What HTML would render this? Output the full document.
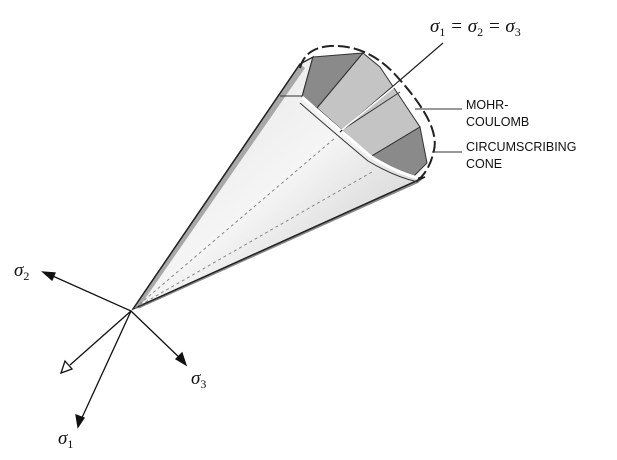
<!DOCTYPE html>
<html><head><style>
html,body{margin:0;padding:0;background:#fff;}
svg{display:block;}
.s{font-family:"Liberation Serif",serif;font-style:italic;font-size:19px;fill:#111;}
.sub{font-size:12px;font-style:normal;}
.l{font-family:"Liberation Sans",sans-serif;font-size:12.5px;fill:#111;}
</style></head><body>
<svg width="617" height="460" viewBox="0 0 617 460" xmlns="http://www.w3.org/2000/svg">
<defs>
<linearGradient id="cg" x1="0" y1="0" x2="1" y2="1">
<stop offset="0" stop-color="#e0e0e0"/><stop offset="0.5" stop-color="#f5f5f5"/><stop offset="1" stop-color="#c0c0c0"/>
</linearGradient>
</defs>
<path d="M133,309 L300,64 L313,57 L302,97 Q340,130 370,156 Q395,172 418,178 L425,177 Z" fill="url(#cg)" stroke="#222" stroke-width="1.3"/>
<path d="M133,309 L300,64 L305,68 L140,306 Z" fill="#a8a8a8"/>
<path d="M133,309 L425,177 L418,183 L140,308 Z" fill="#888"/>
<line x1="133" y1="309" x2="300" y2="64" stroke="#222" stroke-width="1.5"/>
<line x1="133" y1="309" x2="425" y2="177" stroke="#222" stroke-width="1.5"/>
<polygon points="313,57 363,53 317,108 302,97" fill="#8a8a8a" stroke="#333" stroke-width="1"/>
<polygon points="363,53 380,67 420,127 370,157 342,130 317,108" fill="#c4c4c4" stroke="#333" stroke-width="1"/>
<line x1="342" y1="130" x2="400" y2="92" stroke="#333" stroke-width="1"/>
<polygon points="420,127 427,163 413,177 370,157" fill="#8a8a8a" stroke="#333" stroke-width="1"/>
<path d="M302,97 Q340,130 370,156 Q395,172 418,178" fill="none" stroke="#fff" stroke-width="3"/>
<path d="M300,103 Q338,136 368,161 Q395,177 418,182" fill="none" stroke="#333" stroke-width="1"/>
<line x1="135" y1="308" x2="335" y2="138" stroke="#888" stroke-width="1" stroke-dasharray="3,3"/>
<line x1="135" y1="308" x2="372" y2="172" stroke="#888" stroke-width="1" stroke-dasharray="3,3"/>
<line x1="280" y1="96" x2="302" y2="96" stroke="#333" stroke-width="1"/>
<path d="M300,68 Q305,48 330,46 Q370,44 400,80 Q440,125 434,150 Q430,170 418,180" fill="none" stroke="#222" stroke-width="2" stroke-dasharray="12,4"/>
<line x1="340" y1="132" x2="443" y2="43" stroke="#222" stroke-width="1.2"/>
<line x1="342" y1="130" x2="400" y2="82" stroke="#fff" stroke-width="1.5"/>
<line x1="415" y1="109" x2="462" y2="109" stroke="#333" stroke-width="1"/>
<line x1="432" y1="152" x2="462" y2="152" stroke="#333" stroke-width="1"/>
<g stroke="#111" stroke-width="1.3" fill="#111">
<line x1="131" y1="311" x2="46" y2="273"/>
<polygon points="43,272 55,273 52,280"/>
<line x1="131" y1="311" x2="184" y2="362"/>
<polygon points="186,365 176,359 182,353"/>
<line x1="131" y1="311" x2="80" y2="422"/>
<polygon points="78,427 76,415 84,418"/>
<line x1="131" y1="311" x2="70" y2="365"/>
<polygon points="61,373 65,361 72,369" fill="#fff"/>
</g>
<text class="s" x="14" y="276">σ<tspan class="sub" dy="4">2</tspan></text>
<text class="s" x="191" y="384">σ<tspan class="sub" dy="4">3</tspan></text>
<text class="s" x="58" y="444">σ<tspan class="sub" dy="4">1</tspan></text>
<text class="s" x="430" y="32">σ<tspan class="sub" dy="4">1</tspan><tspan dy="-4"> = σ</tspan><tspan class="sub" dy="4">2</tspan><tspan dy="-4"> = σ</tspan><tspan class="sub" dy="4">3</tspan></text>
<text class="l" x="466" y="109">MOHR-</text>
<text class="l" x="466" y="126">COULOMB</text>
<text class="l" x="466" y="151">CIRCUMSCRIBING</text>
<text class="l" x="466" y="168">CONE</text>
</svg>
</body></html>
